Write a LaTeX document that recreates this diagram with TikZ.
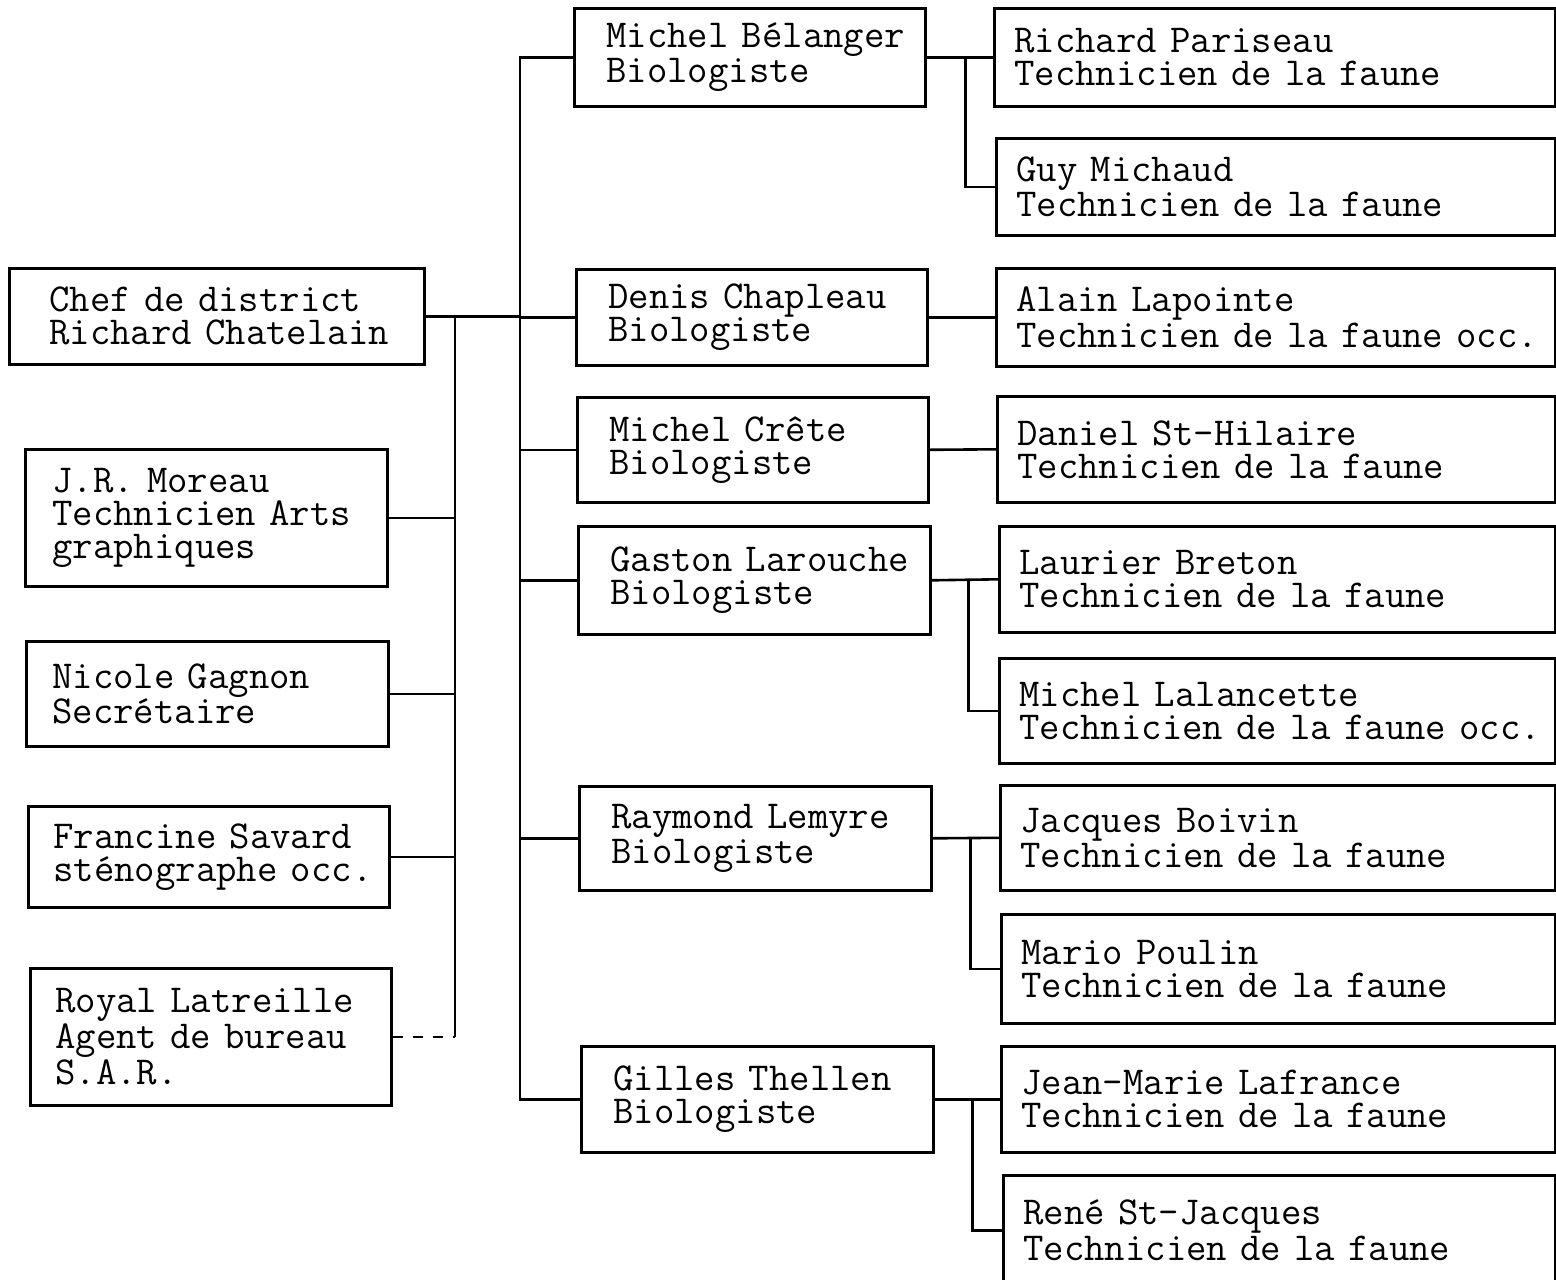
\documentclass[tikz,border=0pt]{standalone}
\usepackage{fontspec}
\usetikzlibrary{calc}
\newlength\px
\setlength\px{0.5pt}

\tikzset{
	box/.style={draw, line width=1.3pt, anchor=north west, align=left, inner ysep=0pt,
		font=\ttfamily\fontsize{19.8pt}{16.5pt}\selectfont},
	link/.style={line width=1.3pt},
}

\begin{document}
\begin{tikzpicture}[x=0.5pt, y=-0.5pt]
				\useasboundingbox (0,0) rectangle (1556,1279);

				% left column
				\node[box, minimum height=96\px, inner xsep=40\px, text width=335\px] (chef) at (8,267) {Chef~de~district\\Richard~Chatelain};
				\node[box, minimum height=137\px, inner xsep=27\px, text width=308\px] (moreau) at (24,448) {J.R.~Moreau\\Technicien~Arts\\graphiques};
				\node[box, minimum height=105\px, inner xsep=26\px, text width=310\px] (gagnon) at (25,640) {Nicole~Gagnon\\Secrétaire};
				\node[box, minimum height=101\px, inner xsep=25\px, text width=311\px] (savard) at (27,805) {Francine~Savard\\sténographe~occ.};
				\node[box, minimum height=137\px, inner xsep=25\px, text width=311\px] (latreille) at (29,967) {Royal~Latreille\\Agent~de~bureau\\S.A.R.};

				% biologistes
				\node[box, minimum height=98\px, inner xsep=32\px, text width=287\px] (belanger) at (573,7) {Michel~Bélanger\\Biologiste};
				\node[box, minimum height=96\px, inner xsep=32\px, text width=287\px] (chapleau) at (575,268) {Denis~Chapleau\\Biologiste};
				\node[box, minimum height=105\px, inner xsep=32\px, text width=287\px] (crete) at (576,396) {Michel~Crête\\Biologiste};
				\node[box, minimum height=108\px, inner xsep=32\px, text width=288\px] (larouche) at (577,525) {Gaston~Larouche\\Biologiste};
				\node[box, minimum height=104\px, inner xsep=32\px, text width=288\px] (lemyre) at (578,785) {Raymond~Lemyre\\Biologiste};
				\node[box, minimum height=106\px, inner xsep=32\px, text width=288\px] (thellen) at (580,1045) {Gilles~Thellen\\Biologiste};

				% techniciens
				\node[box, minimum height=98\px, inner xsep=20\px, text width=521\px] (pariseau) at (993,7) {Richard~Pariseau\\Technicien~de~la~faune};
				\node[box, minimum height=97\px, inner xsep=20\px, text width=519\px] (michaud) at (995,137) {Guy~Michaud\\Technicien~de~la~faune};
				\node[box, minimum height=98\px, inner xsep=20\px, text width=519\px] (lapointe) at (995,267) {Alain~Lapointe\\Technicien~de~la~faune~occ.};
				\node[box, minimum height=106\px, inner xsep=20\px, text width=518\px] (sthilaire) at (996,395) {Daniel~St-Hilaire\\Technicien~de~la~faune};
				\node[box, minimum height=106\px, inner xsep=20\px, text width=516\px] (breton) at (998,525) {Laurier~Breton\\Technicien~de~la~faune};
				\node[box, minimum height=105\px, inner xsep=20\px, text width=516\px] (lalancette) at (998,657) {Michel~Lalancette\\Technicien~de~la~faune~occ.};
				\node[box, minimum height=105\px, inner xsep=20\px, text width=515\px] (boivin) at (999,784) {Jacques~Boivin\\Technicien~de~la~faune};
				\node[box, minimum height=109\px, inner xsep=20\px, text width=514\px] (poulin) at (1000,913) {Mario~Poulin\\Technicien~de~la~faune};
				\node[box, minimum height=106\px, inner xsep=20\px, text width=514\px] (lafrance) at (1000,1045) {Jean-Marie~Lafrance\\Technicien~de~la~faune};
				\node[box, minimum height=110\px, inner xsep=20\px, text width=512\px] (stjacques) at (1002,1174) {René~St-Jacques\\Technicien~de~la~faune};

				\coordinate (trunk) at (520,0);
				\coordinate (lbus) at (455,0);

				% main trunk
				\draw[link] (chef.east) -- (chef.east -| trunk);
				\draw[link] (belanger.west) -- (belanger.west -| trunk) -- (thellen.west -| trunk) -- (thellen.west);
				\draw[link] (chapleau.west) -- (chapleau.west -| trunk);
				\draw[link] (crete.west) -- (crete.west -| trunk);
				\draw[link] (larouche.west) -- (larouche.west -| trunk);
				\draw[link] (lemyre.west) -- (lemyre.west -| trunk);

				% staff bus
				\draw[link] (chef.east -| lbus) -- (latreille.east -| lbus);
				\draw[link] (moreau.east) -- (moreau.east -| lbus);
				\draw[link] (gagnon.east) -- (gagnon.east -| lbus);
				\draw[link] (savard.east) -- (savard.east -| lbus);
				\draw[link, dash pattern=on 5pt off 5pt] (latreille.east) -- (latreille.east -| lbus);

				% right side
				\draw[link] (belanger.east) -- (pariseau.west);
				\draw[link] ($(belanger.east)+(39,0)$) |- (michaud.west);
				\draw[link] (chapleau.east) -- (lapointe.west);
				\draw[link] (crete.east) -- (sthilaire.west);
				\draw[link] (larouche.east) -- (breton.west);
				\draw[link] ($(larouche.east)+(37,0)$) |- (lalancette.west);
				\draw[link] (lemyre.east) -- (boivin.west);
				\draw[link] ($(lemyre.east)+(38,0)$) |- (poulin.west);
				\draw[link] (thellen.east) -- (lafrance.west);
				\draw[link] ($(thellen.east)+(38,0)$) |- (stjacques.west);

			\end{tikzpicture}
\end{document}
